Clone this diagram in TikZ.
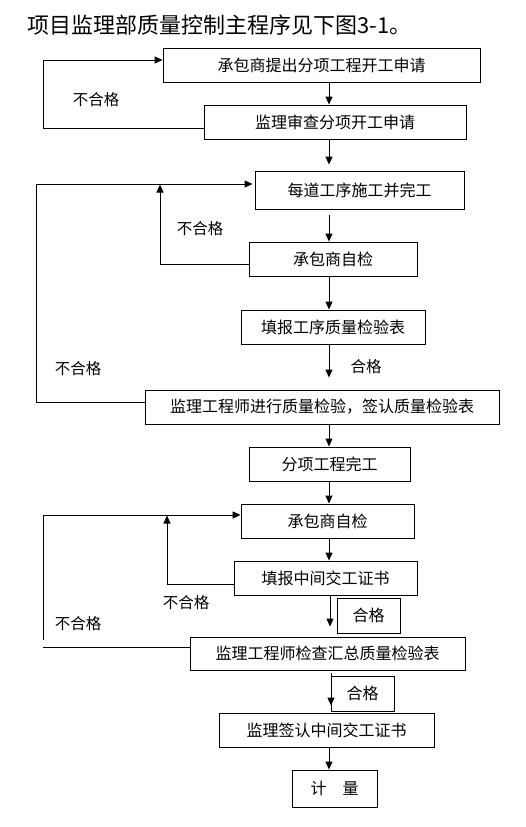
\documentclass[tikz,border=0pt]{standalone}
\usepackage{fontspec}
\setmainfont{Noto Sans CJK SC}
\usetikzlibrary{arrows.meta}
\begin{document}
\begin{tikzpicture}[x=1pt,y=-1pt,
  line width=0.9pt,
  box/.style={draw,line width=0.9pt,inner sep=0pt,font=\fontsize{16}{16}\selectfont},
  arr/.style={-{Triangle[length=8pt,width=7pt]}},
  lbl/.style={font=\fontsize{15.5}{16}\selectfont,inner sep=0pt}]
\fill[white] (0,0) rectangle (526,827);
\useasboundingbox (0,0) rectangle (526,827);
% title
\node[anchor=west,inner sep=0pt,font=\fontsize{22}{22}\selectfont] (title) at (27,25) {项目监理部质量控制主程序见下图3-1。};
% boxes
\node[box,minimum width=317pt,minimum height=34pt] (b1) at (321.5,65) {承包商提出分项工程开工申请};
\node[box,minimum width=262pt,minimum height=34pt] (b2) at (335,122) {监理审查分项开工申请};
\node[box,minimum width=209pt,minimum height=38pt] (b3) at (359.5,190) {每道工序施工并完工};
\node[box,minimum width=168pt,minimum height=34pt] (b4) at (333,259) {承包商自检};
\node[box,minimum width=184pt,minimum height=34pt] (b5) at (333,327) {填报工序质量检验表};
\node[box,minimum width=354pt,minimum height=34pt] (b6) at (322,407) {监理工程师进行质量检验，签认质量检验表};
\node[box,minimum width=161pt,minimum height=34pt] (b7) at (329.5,464) {分项工程完工};
\node[box,minimum width=173pt,minimum height=34pt] (b8) at (327.5,521) {承包商自检};
\node[box,minimum width=183pt,minimum height=34pt] (b9) at (325.5,578) {填报中间交工证书};
\node[box,minimum width=275pt,minimum height=33pt] (b10) at (327.5,653.5) {监理工程师检查汇总质量检验表};
\node[box,minimum width=215pt,minimum height=34pt] (b11) at (326.5,730) {监理签认中间交工证书};
\node[box,minimum width=85pt,minimum height=37pt] (b12) at (334.5,788.5) {计\hspace{1em}量};
% pass boxes
\node[box,minimum width=63pt,minimum height=35pt] (g1) at (368.5,615.5) {合格};
\node[box,minimum width=63pt,minimum height=35pt] (g2) at (362.5,693.5) {合格};
% labels
\node[lbl] (n1) at (96,100) {不合格};
\node[lbl] (n2) at (200,229) {不合格};
\node[lbl] (n3) at (78,369) {不合格};
\node[lbl] (p1) at (366,367) {合格};
\node[lbl] (n4) at (186,603) {不合格};
\node[lbl] (n5) at (78,624) {不合格};
% main column coordinates
\coordinate (m1) at (329,0);
\coordinate (m2) at (330,0);
\coordinate (m3) at (331,0);
% main arrows
\draw[arr] (b1.south -| m1) -- (b2.north -| m1);
\draw[arr,shorten >=6pt] (b2.south -| m1) -- (b3.north -| m1);
\draw[arr,shorten <=6pt] (b3.south -| m1) -- (b4.north -| m1);
\draw[arr] (b4.south -| m1) -- (b5.north -| m1);
\draw[arr,shorten >=12pt] (b5.south -| m1) -- (b6.north -| m1);
\draw[arr] (b6.south -| m1) -- (b7.north -| m1);
\draw[arr] (b7.south -| m1) -- (b8.north -| m1);
\draw[arr] (b8.south -| m1) -- (b9.north -| m1);
\draw[arr,shorten >=10pt] (b9.south -| m2) -- (b10.north -| m2);
\draw[arr,shorten <=3pt,shorten >=7pt] (b10.south -| m3) -- (b11.north -| m3);
\draw[arr] (b11.south -| m1) -- (b12.north -| m1);
% loop 1
\coordinate (l1a) at (43,128);
\coordinate (l1b) at (43,60);
\draw[arr] (b2.west |- l1a) -- (l1a) -- (l1b) -- (l1b -| b1.west);
% loop 2 (big)
\coordinate (l2a) at (36,402);
\coordinate (l2b) at (36,184);
\draw[arr,shorten >=2pt] (b6.west |- l2a) -- (l2a) -- (l2b) -- (l2b -| b3.west);
% loop 3 (inner)
\coordinate (l3a) at (160,264);
\coordinate (l3b) at (160,184.5);
\draw[arr] (b4.west |- l3a) -- (l3a) -- (l3b);
% loop 4 (big, lower)
\coordinate (l4a) at (43,647);
\coordinate (l4b) at (43,640);
\coordinate (l4c) at (43,515);
\draw (b10.west |- l4a) -- (l4a);
\draw[arr] (l4b) -- (l4c) -- (l4c -| b8.west);
% loop 5 (inner, lower)
\coordinate (l5a) at (167,584);
\coordinate (l5b) at (167,515.5);
\draw[arr] (b9.west |- l5a) -- (l5a) -- (l5b);
\end{tikzpicture}
\end{document}
